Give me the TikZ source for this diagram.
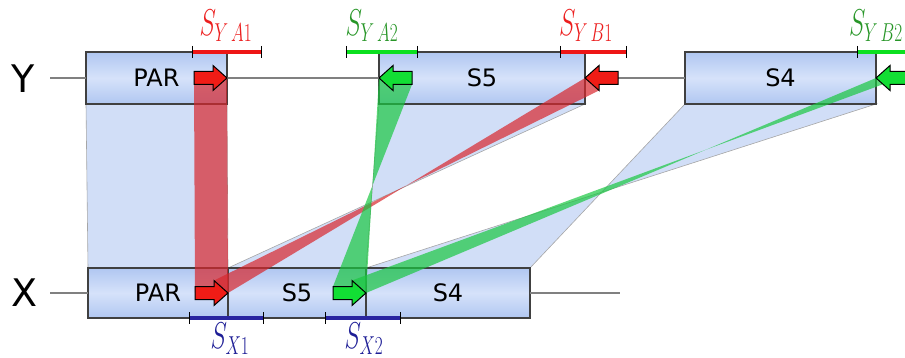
\documentclass[tikz,border=0pt]{standalone}
\usepackage{fontspec}
\usepackage{graphicx}
\newfontfamily\boxfont{DejaVu Sans}
\usetikzlibrary{positioning,backgrounds,calc}
\definecolor{boxtop}{RGB}{176,199,241}
\definecolor{boxmid}{RGB}{214,226,250}
\definecolor{regblue}{RGB}{178,200,242}
\definecolor{bandred}{RGB}{216,39,45}
\definecolor{bandgreen}{RGB}{26,199,65}
\definecolor{arrred}{RGB}{240,28,22}
\definecolor{arrgreen}{RGB}{18,222,52}
\definecolor{barred}{RGB}{238,22,22}
\definecolor{bargreen}{RGB}{12,224,32}
\definecolor{barblue}{RGB}{40,36,160}
\definecolor{lblred}{RGB}{236,30,30}
\definecolor{lblgreen}{RGB}{40,150,40}
\definecolor{lblblue}{RGB}{30,30,150}
\tikzset{
  seg/.style={draw=black!75, line width=1.3pt, top color=boxtop, bottom color=boxtop,
    middle color=boxmid, minimum height=52pt, inner sep=0pt, outer sep=0pt,
    font=\boxfont\fontsize{24}{28}\selectfont},
  region/.style={fill=regblue, fill opacity=0.6, draw=black!35, line width=0.6pt},
  band/.style={fill opacity=0.7},
  rowline/.style={draw=black!50, line width=1.2pt},
  sbar/.style={line width=4pt},
  barend/.style={black, line width=1pt},
  blockarrow/.style={draw=black, line width=1pt, line join=miter},
  slabel/.style={font=\fontsize{24}{28}\selectfont, inner sep=0pt},
  rowlabel/.style={font=\boxfont\fontsize{38}{44}\selectfont, inner sep=0pt}
}
\begin{document}
\begin{tikzpicture}[x=1pt, y=-1pt]
    \useasboundingbox (0,0) rectangle (905,358);

    \node [rowlabel] (yLbl) at (23,79) {Y};
    \node [rowlabel] (xLbl) at (25,293) {X};
    \coordinate (yStart) at (50,78);
    \coordinate (xStart) at (50,293);
    \coordinate (xEnd) at (620,293);

    \node [seg, minimum width=141pt] (yPAR) at (156.5,78) {PAR\hspace{13pt}};
    \node [seg, minimum width=206pt] (yS5) at (482,78) {S5};
    \node [seg, minimum width=191pt] (yS4) at (780.5,78) {S4};
    \node [seg, minimum width=140pt, minimum height=50pt] (xPAR) at (158,293) {PAR\hspace{20pt}};
    \node [seg, minimum width=138pt, minimum height=50pt, right=0pt of xPAR] (xS5) {S5};
    \node [seg, minimum width=164pt, minimum height=50pt, right=0pt of xS5] (xS4) {S4};

    \draw [rowline] (yStart) -- (yPAR.west);
    \draw [rowline] (yPAR.east) -- (yS5.west);
    \draw [rowline] (yS5.east) -- (yS4.west);
    \draw [rowline] (xStart) -- (xPAR.west);
    \draw [rowline] (xS4.east) -- (xEnd);

    \begin{scope}[on background layer]
        \draw [region] (yPAR.south west) -- (yPAR.south east) -- (xPAR.north east) -- (xPAR.north west) -- cycle;
        \draw [region] (yS5.south west) -- (yS5.south east) -- (xS5.north west) -- (xS5.north east) -- cycle;
        \draw [region] (yS4.south west) -- (yS4.south east) -- (xS4.north west) -- (xS4.north east) -- cycle;
    \end{scope}

    \foreach \nm/\tip/\dir in {yA1/yPAR.east/1, yA2/yS5.west/-1, yB1/yS5.east/-1,
                               yB2/yS4.east/-1, xA1/xPAR.east/1, xA2/xS5.east/1} {
        \begin{scope}[shift={(\tip)}, xscale=\dir]
            \coordinate (\nm-tip) at (0,0);
            \coordinate (\nm-ht) at (-14,-12.5);
            \coordinate (\nm-hb) at (-14,12.5);
            \coordinate (\nm-bt) at (-14,-6.5);
            \coordinate (\nm-bb) at (-14,6.5);
            \coordinate (\nm-tt) at (-33,-6.5);
            \coordinate (\nm-tb) at (-33,6.5);
        \end{scope}
    }

    \fill [band, bandred] (yA1-tip) -- (xA1-tip) -- (xA1-tip -| xA1-tt) -- (yA1-tip -| yA1-tt) -- cycle;
    \fill [band, bandred] (yB1-tip) -- (yB1-hb) -- (xA1-ht) -- (xA1-tip) -- cycle;
    \fill [band, bandgreen] (yA2-tip) -- (yA2-tb) -- (xA2-tt) -- (xA2-tip) -- cycle;
    \fill [band, bandgreen] (yB2-tip) -- ($(yB2-tip)!0.5!(yB2-hb)$) -- (xA2-ht) -- (xA2-tip) -- cycle;

    \foreach \xa/\xb/\yy/\cl in {192/261/52/barred, 346/417/52/bargreen, 560/626/52/barred,
                                 857/940/52/bargreen, 189/263/318/barblue, 325/400/318/barblue} {
        \draw [sbar, \cl] (\xa,\yy) -- (\xb,\yy);
        \draw [barend] (\xa,\yy-6) -- (\xa,\yy+6) (\xb,\yy-6) -- (\xb,\yy+6);
    }

    \foreach \nm/\cl in {yA1/arrred, yB1/arrred, xA1/arrred, yA2/arrgreen, yB2/arrgreen, xA2/arrgreen}
        \draw [blockarrow, fill=\cl] (\nm-tip) -- (\nm-ht) -- (\nm-bt) -- (\nm-tt) -- (\nm-tb) -- (\nm-bb) -- (\nm-hb) -- cycle;

    \node [slabel, lblred] (lYA1) at (226,26) {\scalebox{1}[1.5]{$S_{Y\,A1}$}};
    \node [slabel, lblgreen] (lYA2) at (372,26) {\scalebox{1}[1.5]{$S_{Y\,A2}$}};
    \node [slabel, lblred] (lYB1) at (586,26) {\scalebox{1}[1.5]{$S_{Y\,B1}$}};
    \node [slabel, lblgreen] (lYB2) at (876,26) {\scalebox{1}[1.5]{$S_{Y\,B2}$}};
    \node [slabel, lblblue] (lX1) at (230,339) {\scalebox{1}[1.5]{$S_{X1}$}};
    \node [slabel, lblblue] (lX2) at (364,339) {\scalebox{1}[1.5]{$S_{X2}$}};
\end{tikzpicture}
\end{document}
